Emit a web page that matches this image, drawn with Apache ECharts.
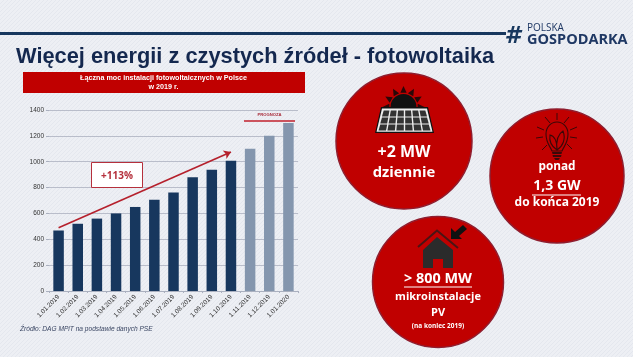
<!DOCTYPE html>
<html>
<head>
<meta charset="utf-8">
<title>Fotowoltaika</title>
<script src="https://cdn.jsdelivr.net/npm/echarts@6/dist/echarts.min.js"></script>
<style>
html, body { margin: 0; padding: 0; background: #eceef3; }
#main { width: 633px; height: 357px; }
</style>
</head>
<body>
<div id="main"></div>
<script>
var categories = ["1.01.2019", "1.02.2019", "1.03.2019", "1.04.2019", "1.05.2019", "1.06.2019", "1.07.2019",
  "1.08.2019", "1.09.2019", "1.10.2019", "1.11.2019", "1.12.2019", "1.01.2020"];
var moc = [468, 520, 560, 600, 650, 705, 762, 880, 938, 1008, 1100, 1200, 1300];
var pierwszaPrognoza = 10; // od tego indeksu slupki sa prognoza
var strzalkaOd = ["1.01.2019", 489];
var strzalkaDo = ["1.10.2019", 1075];

var navy = "#17375e";
var navyLight = "#8496ae";
var red = "#c00000";
var redDark = "#8f1d2e";
var sans = "Liberation Sans";
var round = "Open Sans";

// tlo w delikatne ukosne paski
var tlo = document.createElement("canvas");
tlo.width = 4;
tlo.height = 4;
var c = tlo.getContext("2d");
c.fillStyle = "#edeff4";
c.fillRect(0, 0, 4, 4);
c.strokeStyle = "#e4e7ee";
c.lineWidth = 1;
c.beginPath();
c.moveTo(0, 4);
c.lineTo(4, 0);
c.stroke();

// ksztalt zarowki
echarts.graphic.registerShape("zarowka", echarts.graphic.extendPath(
  "M552 151 C550 146 546 143 546 134 C546 127 551 122 557 122 C563 122 568 127 568 134 C568 143 564 146 562 151 Z " +
  "M557 150 C551 146 549 141 550 135 C555 136 557 142 557 150 C556 141 558 134 563 131 C566 139 563 146 557 150", {}));

function txt(x, y, text, size, opts) {
  opts = opts || {};
  return {
    type: "text", x: x, y: y, z: 10,
    style: {
      text: text,
      fontFamily: opts.font || round,
      fontSize: size,
      fontWeight: opts.weight || "bold",
      fontStyle: opts.italic ? "italic" : "normal",
      fill: opts.fill || "#fff",
      align: opts.align || "center",
      verticalAlign: "middle"
    }
  };
}
function kolo(x, y, r) {
  return { type: "circle", z: 2, shape: { cx: x, cy: y, r: r }, style: { fill: red, stroke: redDark, lineWidth: 1.5 } };
}
function kreska(x1, y1, x2, y2, color, w) {
  return { type: "line", z: 10, shape: { x1: x1, y1: y1, x2: x2, y2: y2 }, style: { stroke: color, lineWidth: w } };
}
function wielokat(points, fill) {
  return { type: "polygon", z: 5, shape: { points: points }, style: { fill: fill } };
}

var graphics = [
  kreska(0, 33.5, 506, 33.5, navy, 3),
  txt(16, 56.5, "Więcej energii z czystych źródeł - fotowoltaika", 21.8, { font: sans, align: "left", fill: "#14284f" }),
  txt(512.5, 37.5, "#", 23, { font: "DejaVu Sans", italic: true, fill: navy }),
  txt(527, 28, "POLSKA", 10, { align: "left", weight: "normal", fill: "#1f3864" }),
  txt(527, 40, "GOSPODARKA", 14.5, { align: "left", fill: "#1f3864" }),

  { type: "rect", z: 1, shape: { x: 23, y: 72, width: 282, height: 21 }, style: { fill: red } },
  txt(163.5, 78.5, "Łączna moc instalacji fotowoltaicznych w Polsce", 7.2, { font: sans }),
  txt(163.5, 87, "w 2019 r.", 7.2, { font: sans }),

  { type: "rect", z: 6, shape: { x: 91.5, y: 162.5, width: 51, height: 25 }, style: { fill: "#fff", stroke: "#b5303c", lineWidth: 1 } },
  txt(117, 176, "+113%", 10, { fill: "#b5303c" }),
  txt(269.5, 115, "PROGNOZA", 4.2, { font: sans, fill: "#a82a38" }),
  kreska(244, 121, 295, 121, "#c0202c", 1.5),

  txt(20, 329, "Źródło: DAG MPiT na podstawie danych PSE", 6.6, { font: sans, align: "left", weight: "normal", italic: true, fill: "#3a4663" }),

  kolo(404, 141, 68),
  kolo(557, 176, 67),
  kolo(438, 282, 65.5),

  txt(404, 152, "+2 MW", 16),
  txt(404, 173, "dziennie", 14.8),
  txt(557, 167, "ponad", 11.8),
  txt(557, 186, "1,3 GW", 14),
  kreska(532, 195, 581, 195, "#fff", 1),
  txt(557, 203, "do końca 2019", 12),
  txt(438, 279, "> 800 MW", 14.4),
  kreska(404, 287, 472, 287, "#fff", 1),
  txt(438, 297, "mikroinstalacje", 11),
  txt(438, 313, "PV", 11),
  txt(438, 326, "(na koniec 2019)", 6.5)
];

// slonce i panel
var i, a;
graphics.push({
  type: "sector", z: 5,
  shape: { cx: 403.5, cy: 107, r0: 0, r: 13, startAngle: Math.PI, endAngle: 2 * Math.PI },
  style: { fill: "#111" }
});
for (i = 0; i < 7; i++) {
  a = Math.PI + i * Math.PI / 6;
  graphics.push(wielokat([
    [403.5 + 14.5 * Math.cos(a - 0.22), 107 + 14.5 * Math.sin(a - 0.22)],
    [403.5 + 21 * Math.cos(a), 107 + 21 * Math.sin(a)],
    [403.5 + 14.5 * Math.cos(a + 0.22), 107 + 14.5 * Math.sin(a + 0.22)]
  ], "#2a0808"));
}
graphics.push(wielokat([[381, 107], [428, 107], [434, 133], [375, 133]], "#111"));
graphics.push(wielokat([[382, 108.5], [427, 108.5], [432.5, 131.8], [376.5, 131.8]], "#eee"));
var r, k, t0, t1, l0, l1;
for (r = 0; r < 3; r++) {
  t0 = r / 3; t1 = (r + 1) / 3;
  for (k = 0; k < 6; k++) {
    l0 = k / 6; l1 = (k + 1) / 6;
    graphics.push(wielokat([
      [383 - 5.2 * t0 + 43 * l0 + 10.4 * t0 * l0 + 0.7, 110 + 21 * t0 + 0.6],
      [383 - 5.2 * t0 + 43 * l1 + 10.4 * t0 * l1 - 0.7, 110 + 21 * t0 + 0.6],
      [383 - 5.2 * t1 + 43 * l1 + 10.4 * t1 * l1 - 0.7, 110 + 21 * t1 - 0.6],
      [383 - 5.2 * t1 + 43 * l0 + 10.4 * t1 * l0 + 0.7, 110 + 21 * t1 - 0.6]
    ], "#333"));
  }
}

// zarowka
graphics.push({
  type: "zarowka", z: 5,
  style: { fill: "none", stroke: "#3a0808", lineWidth: 1.1 }
});
graphics.push(wielokat([[552, 152], [562, 152], [561.5, 154], [552.5, 154]], "#3a0808"));
graphics.push(wielokat([[552.5, 155], [561.5, 155], [561, 157], [553, 157]], "#3a0808"));
graphics.push(wielokat([[554, 158], [560, 158], [558.5, 160], [555.5, 160]], "#3a0808"));
[[557, 113, 557, 120], [545, 117, 550, 123], [569, 117, 564, 123], [537, 127, 544, 130], [577, 127, 570, 130],
  [536, 138, 543, 137], [577, 138, 570, 137], [542, 150, 547, 145], [572, 149, 567, 144]].forEach(function (p) {
  graphics.push(kreska(p[0], p[1], p[2], p[3], "#3a0808", 1));
});

// dom
graphics.push({
  type: "polyline", z: 5,
  shape: { points: [[418, 247], [437, 230.5], [458, 248]] },
  style: { stroke: "#4a1414", lineWidth: 2, fill: "none" }
});
graphics.push(wielokat([[423, 250], [437, 237], [453, 250], [453, 268], [443, 268], [443, 259], [433, 259], [433, 268], [423, 268]], "#2b2b2b"));
graphics.push(wielokat([[451, 239], [451, 228], [455, 232], [463, 225], [467, 229], [459, 236], [462, 239]], "#111"));

var chart = echarts.init(document.getElementById("main"));
chart.setOption({
  animation: false,
  backgroundColor: { image: tlo, repeat: "repeat" },
  grid: { left: 49, right: 335, top: 110, bottom: 66 },
  xAxis: {
    type: "category",
    data: categories,
    axisLine: { lineStyle: { color: "#aab0bf", width: 1 } },
    axisTick: { show: true, length: 2, lineStyle: { color: "#aab0bf" } },
    axisLabel: { rotate: 45, interval: 0, fontSize: 6.5, margin: 5, color: "#333", fontFamily: sans }
  },
  yAxis: {
    type: "value",
    min: 0,
    max: 1400,
    interval: 200,
    axisLine: { show: false },
    axisTick: { show: true, length: 3, lineStyle: { color: "#aab0bf" } },
    axisLabel: {
      fontSize: 6.5, margin: 5, color: "#333", fontFamily: sans,
      formatter: function (v) { return String(v); }
    },
    splitLine: { show: true, lineStyle: { color: "#b9bdca", width: 1 } }
  },
  series: [{
    name: "Moc",
    type: "bar",
    barWidth: 10.5,
    data: moc,
    itemStyle: {
      color: function (p) {
        return p.dataIndex >= pierwszaPrognoza ? navyLight : navy;
      }
    },
    markLine: {
      silent: true,
      symbol: ["none", "arrow"],
      symbolSize: 7,
      label: { show: false },
      lineStyle: { color: "#b5202c", width: 1.6, type: "solid" },
      data: [[
        { xAxis: strzalkaOd[0], yAxis: strzalkaOd[1] },
        { xAxis: strzalkaDo[0], yAxis: strzalkaDo[1] }
      ]]
    }
  }],
  graphic: graphics
});
</script>
</body>
</html>
